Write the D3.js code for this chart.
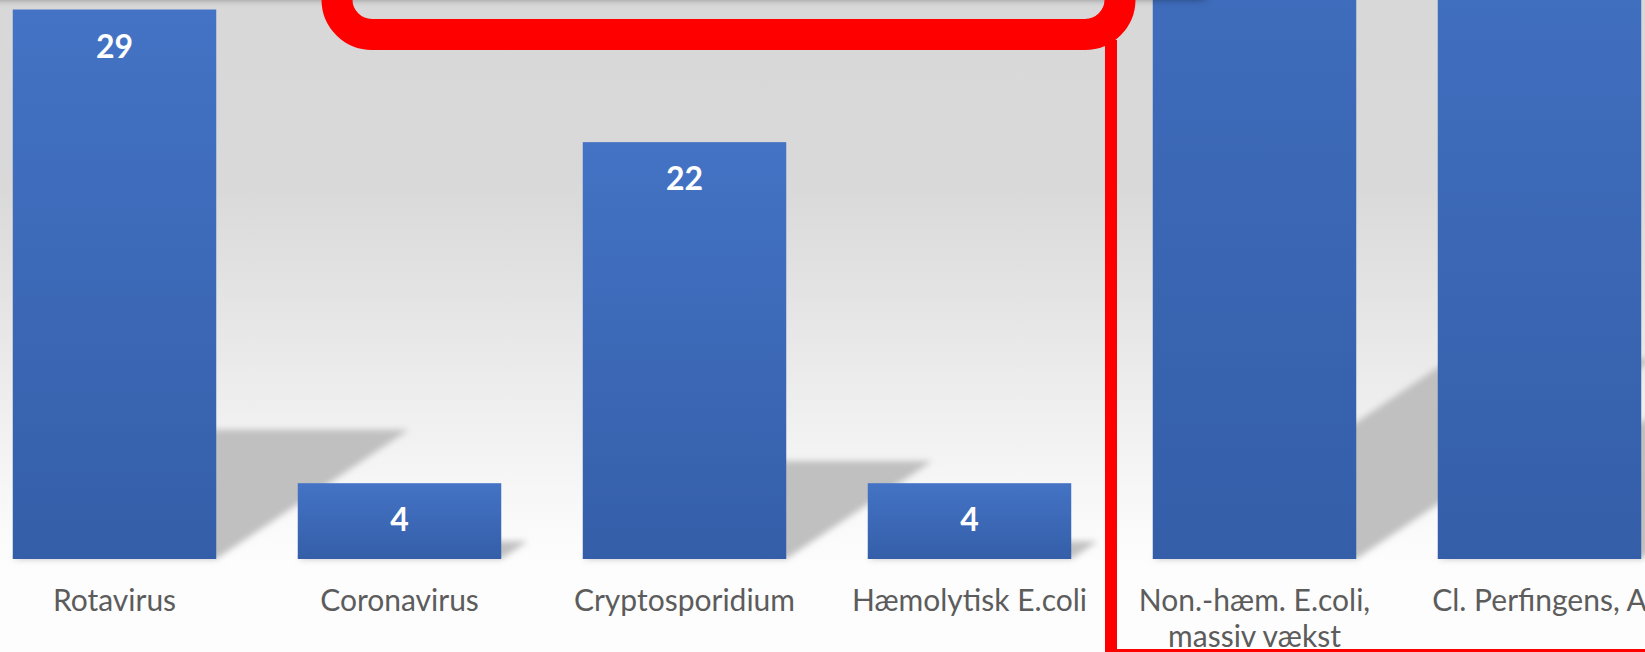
<!DOCTYPE html>
<html>
<head>
<meta charset="utf-8">
<script src="https://cdn.jsdelivr.net/npm/d3@7"></script>
<style>
  html, body { margin: 0; padding: 0; background: #fff; overflow: hidden; }
  svg { display: block; }
</style>
</head>
<body>
<script>
// chart data
const categories = ["Rotavirus", "Coronavirus", "Cryptosporidium", "Hæmolytisk E.coli",
  "Non.-hæm. E.coli,\nmassiv vækst", "Cl. Perfingens, A"];
const values = [29, 4, 22, 4, 45, 38];

const width = 1645, height = 652;
const baseY = 559;

const svg = d3.select("body").append("svg")
  .attr("width", width)
  .attr("height", height);

const defs = svg.append("defs");

const bg = defs.append("linearGradient").attr("id", "bg")
  .attr("x1", 0).attr("y1", 0).attr("x2", 0).attr("y2", 1);
bg.append("stop").attr("offset", 0).attr("stop-color", "#d8d8d8");
bg.append("stop").attr("offset", 0.33).attr("stop-color", "#d9d9d9");
bg.append("stop").attr("offset", 0.86).attr("stop-color", "#f6f6f6");
bg.append("stop").attr("offset", 1).attr("stop-color", "#fdfdfd");

const barGrad = defs.append("linearGradient").attr("id", "barGrad")
  .attr("x1", 0).attr("y1", 0).attr("x2", 0).attr("y2", 1);
barGrad.append("stop").attr("offset", 0).attr("stop-color", "#4473c5");
barGrad.append("stop").attr("offset", 1).attr("stop-color", "#345ea8");

defs.append("filter").attr("id", "soft")
  .attr("x", "-20%").attr("y", "-20%").attr("width", "140%").attr("height", "140%")
  .append("feGaussianBlur").attr("stdDeviation", 3);

defs.append("filter").attr("id", "topShadow")
  .attr("x", "-20%").attr("y", "-100%").attr("width", "140%").attr("height", "300%")
  .append("feGaussianBlur").attr("stdDeviation", 4);

// background
svg.append("rect").attr("width", width).attr("height", height).attr("fill", "#fdfdfd");
svg.append("rect").attr("width", width).attr("height", baseY + 2).attr("fill", "url(#bg)");

const x = d3.scaleBand()
  .domain(categories)
  .range([-28, 1682])
  .paddingInner(0.286)
  .paddingOuter(0.143);

const y = d3.scaleLinear()
  .domain([0, 29])
  .range([baseY, 9.5]);

// perspective shadows behind bars
const skew = 0.35, squash = 0.235;
svg.append("g")
  .attr("filter", "url(#soft)")
  .selectAll("path")
  .data(values)
  .join("path")
  .attr("fill", "#c0c0c0")
  .attr("d", (d, i) => {
    const x0 = x(categories[i]), x1 = x0 + x.bandwidth();
    const h = baseY - y(d);
    const dx = h * skew, dy = h * squash;
    return `M${x0},${baseY}L${x1},${baseY}L${x1 + dx},${baseY - dy}L${x0 + dx},${baseY - dy}Z`;
  });

// bars
svg.append("g")
  .selectAll("rect")
  .data(values)
  .join("rect")
  .attr("x", (d, i) => x(categories[i]))
  .attr("y", d => y(d))
  .attr("width", x.bandwidth())
  .attr("height", d => baseY - y(d))
  .attr("fill", "url(#barGrad)");

// value labels
svg.append("g")
  .selectAll("text")
  .data(values)
  .join("text")
  .attr("x", (d, i) => x(categories[i]) + x.bandwidth() / 2)
  .attr("y", d => y(d) + 48)
  .attr("text-anchor", "middle")
  .attr("font-family", "Lato, 'Open Sans', sans-serif")
  .attr("font-weight", "bold")
  .attr("font-size", 32)
  .attr("fill", "#ffffff")
  .text(d => d);

// category labels
const cat = svg.append("g")
  .selectAll("text")
  .data(categories)
  .join("text")
  .attr("x", d => x(d) + x.bandwidth() / 2)
  .attr("y", 611)
  .attr("text-anchor", "middle")
  .attr("font-family", "Lato, 'Open Sans', sans-serif")
  .attr("font-size", 30)
  .attr("fill", "#5c5c5c");
cat.selectAll("tspan")
  .data(d => d.split("\n").map(t => ({t, cx: x(d) + x.bandwidth() / 2})))
  .join("tspan")
  .attr("x", d => d.cx)
  .attr("dy", (d, i) => i ? 36 : 0)
  .text(d => d.t);

// shadow from the object sitting above the cropped area
svg.append("rect")
  .attr("x", -60).attr("y", -40)
  .attr("width", 1265).attr("height", 38)
  .attr("fill", "#000").attr("opacity", 0.55)
  .attr("filter", "url(#topShadow)");

// red annotation shapes
svg.append("rect")
  .attr("x", 337).attr("y", -300)
  .attr("width", 1120 - 337).attr("height", 334.5)
  .attr("rx", 35).attr("ry", 35)
  .attr("fill", "none")
  .attr("stroke", "#ff0000")
  .attr("stroke-width", 31);

svg.append("line")
  .attr("x1", 1111).attr("x2", 1111)
  .attr("y1", 40).attr("y2", 652)
  .attr("stroke", "#ff0000").attr("stroke-width", 12);

svg.append("line")
  .attr("x1", 1105).attr("x2", width)
  .attr("y1", 650.5).attr("y2", 650.5)
  .attr("stroke", "#ff0000").attr("stroke-width", 3);
</script>
</body>
</html>
